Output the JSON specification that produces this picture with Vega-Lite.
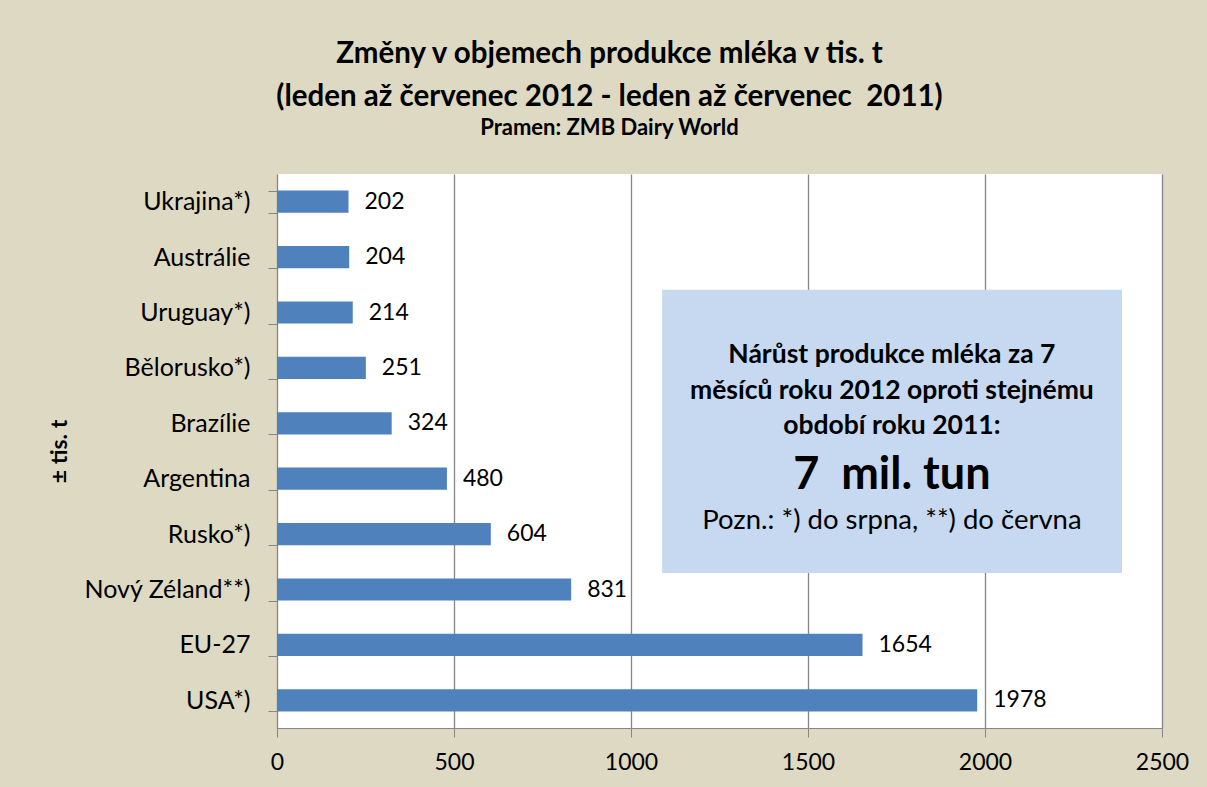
{
  "$schema": "https://vega.github.io/schema/vega-lite/v6.json",
  "autosize": {"type": "none"},
  "width": 885,
  "height": 554,
  "padding": {"left": 277, "top": 174, "right": 45, "bottom": 59},
  "background": "#DDD9C3",
  "config": {
    "font": "Lato",
    "view": {"fill": "#FFFFFF", "stroke": null}
  },
  "title": {
    "text": ["Změny v objemech produkce mléka v tis. t", "(leden až červenec 2012 - leden až červenec\u00a0 2011)"],
    "subtitle": "Pramen: ZMB Dairy World",
    "fontSize": 29.5,
    "fontWeight": "bold",
    "lineHeight": 43,
    "subtitleFontSize": 22,
    "subtitleFontWeight": "bold",
    "subtitlePadding": 6,
    "color": "#000000",
    "subtitleColor": "#000000",
    "anchor": "middle",
    "dx": -110,
    "offset": 22
  },
  "datasets": {
    "bars": [
      {"country": "Ukrajina*)", "value": 202},
      {"country": "Austrálie", "value": 204},
      {"country": "Uruguay*)", "value": 214},
      {"country": "Bělorusko*)", "value": 251},
      {"country": "Brazílie", "value": 324},
      {"country": "Argentina", "value": 480},
      {"country": "Rusko*)", "value": 604},
      {"country": "Nový Zéland**)", "value": 831},
      {"country": "EU-27", "value": 1654},
      {"country": "USA*)", "value": 1978}
    ],
    "box": [{"x": 1088, "x2": 2387, "y": 2.09, "y2": 7.2}],
    "boxHead": [{"text": "Nárůst produkce mléka za 7\nměsíců roku 2012 oproti stejnému\nobdobí roku 2011:", "x": 1737, "y": 3.27}],
    "boxBig": [{"text": "7\u00a0 mil. tun", "x": 1737, "y": 5.43}],
    "boxNote": [{"text": "Pozn.: *) do srpna, **) do června", "x": 1737, "y": 6.27}]
  },
  "resolve": {"scale": {"y": "independent"}, "axis": {"y": "independent"}},
  "layer": [
    {
      "data": {"name": "bars"},
      "layer": [
        {
          "mark": {"type": "bar", "color": "#4F81BD"},
          "encoding": {
            "y": {
              "field": "country", "type": "nominal", "sort": null,
              "scale": {"paddingInner": 0.6, "paddingOuter": 0.3},
              "axis": {
                "title": "± tis. t",
                "titleFontSize": 23, "titleFontWeight": "bold", "titleColor": "#000000",
                "titleX": -218, "titleY": 277, "titleAngle": -90, "titleAlign": "center", "titleBaseline": "middle",
                "labelFontSize": 25, "labelColor": "#000000", "labelPadding": 18,
                "tickBand": "extent", "tickSize": 9, "tickColor": "#868686",
                "domainColor": "#868686", "grid": false
              }
            },
            "x": {
              "field": "value", "type": "quantitative",
              "scale": {"domain": [0, 2500], "nice": false},
              "axis": {
                "title": null, "values": [0, 500, 1000, 1500, 2000, 2500], "format": "d",
                "labelFontSize": 23, "labelColor": "#000000", "labelPadding": 14,
                "tickSize": 9, "tickColor": "#868686", "domainColor": "#868686",
                "grid": true, "gridColor": "#868686", "gridWidth": 1.3,
                "labelFlush": false
              }
            }
          }
        },
        {
          "mark": {"type": "text", "align": "left", "baseline": "middle", "dx": 16, "fontSize": 23, "color": "#000000"},
          "encoding": {
            "y": {"field": "country", "type": "nominal", "sort": null},
            "x": {"field": "value", "type": "quantitative"},
            "text": {"field": "value", "type": "quantitative"}
          }
        }
      ]
    },
    {
      "layer": [
        {
          "data": {"name": "box"},
          "mark": {"type": "rect", "color": "#C6D9F1", "opacity": 1},
          "encoding": {
            "x": {"field": "x", "type": "quantitative"},
            "x2": {"field": "x2"},
            "y": {"field": "y", "type": "quantitative", "scale": {"domain": [0, 10], "reverse": true, "nice": false}, "axis": null},
            "y2": {"field": "y2"}
          }
        },
        {
          "data": {"name": "boxHead"},
          "mark": {"type": "text", "align": "center", "baseline": "middle", "fontSize": 26.5, "fontWeight": "bold", "lineHeight": 35.5, "lineBreak": "\n", "color": "#000000"},
          "encoding": {
            "x": {"field": "x", "type": "quantitative"},
            "y": {"field": "y", "type": "quantitative", "axis": null},
            "text": {"field": "text"}
          }
        },
        {
          "data": {"name": "boxBig"},
          "mark": {"type": "text", "align": "center", "baseline": "middle", "fontSize": 45, "fontWeight": "bold", "color": "#000000"},
          "encoding": {
            "x": {"field": "x", "type": "quantitative"},
            "y": {"field": "y", "type": "quantitative", "axis": null},
            "text": {"field": "text"}
          }
        },
        {
          "data": {"name": "boxNote"},
          "mark": {"type": "text", "align": "center", "baseline": "middle", "fontSize": 27.5, "color": "#000000"},
          "encoding": {
            "x": {"field": "x", "type": "quantitative"},
            "y": {"field": "y", "type": "quantitative", "axis": null},
            "text": {"field": "text"}
          }
        }
      ]
    }
  ]
}
